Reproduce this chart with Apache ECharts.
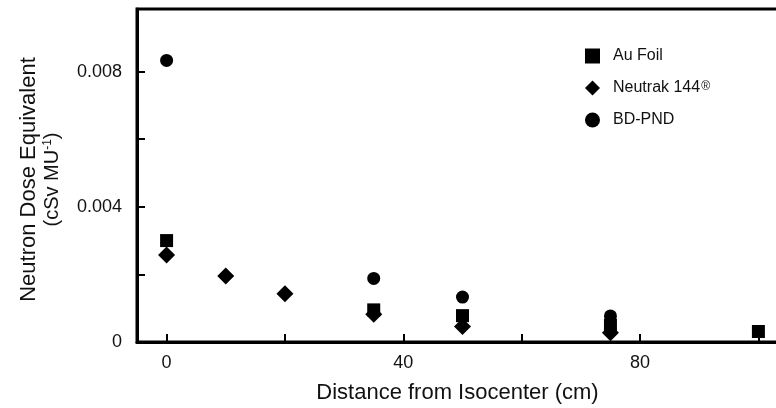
<!DOCTYPE html>
<html>
<head>
<meta charset="utf-8">
<script src="https://cdn.jsdelivr.net/npm/echarts@6/dist/echarts.min.js"></script>
<style>html,body{margin:0;padding:0;background:#fff}#c{width:776px;height:408px}</style>
</head>
<body>
<div id="c"></div>
<script>
var seriesNames = ['Au Foil', 'Neutrak 144\u00AE', 'BD-PND'];
var auFoilX = [0, 35, 50, 75, 100];
var auFoilY = [0.0030, 0.00095, 0.00078, 0.00050, 0.00031];
var neutrakX = [0, 10, 20, 35, 50, 75];
var neutrakY = [0.00257, 0.00195, 0.00143, 0.00082, 0.00046, 0.00027];
var bdpndX = [0, 35, 50, 75];
var bdpndY = [0.00833, 0.00188, 0.00133, 0.00077];
var xTickLabels = ['0', '40', '80'];
var yTickLabels = ['0', '0.004', '0.008'];

function pairs(xs, ys) { return xs.map(function (x, i) { return [x, ys[i]]; }); }

var font = 'Liberation Sans';
var chart = echarts.init(document.getElementById('c'), null, { renderer: 'canvas' });
chart.setOption({
  animation: false,
  backgroundColor: '#fff',
  grid: { left: 137, top: 9, right: -12, bottom: 66, show: true, borderColor: '#000', borderWidth: 3, outerBoundsMode: 'none', containLabel: false },
  legend: {
    orient: 'vertical', left: 580, top: 43, itemGap: 16, itemWidth: 15, itemHeight: 15,
    formatter: function (name) {
      if (name.indexOf('\u00AE') >= 0) return '{n|' + name.replace('\u00AE', '') + '}{r|\u00AE}';
      return '{n|' + name + '}';
    },
    textStyle: {
      fontFamily: font, fontSize: 16, color: '#111', padding: [0, 0, 0, 8],
      rich: {
        n: { fontFamily: font, fontSize: 16, color: '#111' },
        r: { fontFamily: font, fontSize: 12, color: '#111', padding: [0, 0, 2, 1] }
      }
    },
    data: seriesNames
  },
  xAxis: {
    type: 'value', min: -5, max: 105, splitNumber: 5,
    axisLine: { onZero: false, lineStyle: { color: '#000', width: 3 } },
    axisTick: { inside: true, length: 8, lineStyle: { color: '#000', width: 2 } },
    splitLine: { show: false },
    axisLabel: {
      fontFamily: font, fontSize: 18, color: '#111', margin: 12,
      formatter: function (v) {
        for (var i = 0; i < xTickLabels.length; i++) if (Math.abs(v - parseFloat(xTickLabels[i])) < 1e-9) return xTickLabels[i];
        return '';
      }
    },
    name: 'Distance from Isocenter (cm)', nameLocation: 'middle', nameGap: 40,
    nameTextStyle: { fontFamily: font, fontSize: 22, color: '#111', padding: [0, 10, 0, 0] }
  },
  yAxis: {
    type: 'value', min: 0, max: 0.00985, interval: 0.002,
    axisLine: { onZero: false, lineStyle: { color: '#000', width: 3 } },
    axisTick: { inside: true, length: 8, lineStyle: { color: '#000', width: 2 } },
    splitLine: { show: false },
    axisLabel: {
      fontFamily: font, fontSize: 18, color: '#111', margin: 15,
      formatter: function (v) {
        for (var i = 0; i < yTickLabels.length; i++) if (Math.abs(v - parseFloat(yTickLabels[i])) < 1e-9) return yTickLabels[i];
        return '';
      }
    },
    name: '{a|Neutron Dose Equivalent}\n{b|(cSv MU}{s|-1}{b|)}', nameLocation: 'middle', nameRotate: 90, nameGap: 74,
    nameTextStyle: {
      fontFamily: font, color: '#111', align: 'center', padding: [0, 8, 0, 0],
      rich: {
        a: { fontFamily: font, fontSize: 22, color: '#111', lineHeight: 26 },
        b: { fontFamily: font, fontSize: 20, color: '#111', lineHeight: 21 },
        s: { fontFamily: font, fontSize: 12, color: '#111', lineHeight: 21, verticalAlign: 'top' }
      }
    }
  },
  series: [
    { name: seriesNames[0], type: 'scatter', symbol: 'rect', symbolSize: 13, itemStyle: { color: '#000', opacity: 1 }, data: pairs(auFoilX, auFoilY) },
    { name: seriesNames[1], type: 'scatter', symbol: 'diamond', symbolSize: 17, itemStyle: { color: '#000', opacity: 1 }, data: pairs(neutrakX, neutrakY) },
    { name: seriesNames[2], type: 'scatter', symbol: 'circle', symbolSize: 13, itemStyle: { color: '#000', opacity: 1 }, data: pairs(bdpndX, bdpndY) }
  ]
});
</script>
</body>
</html>
